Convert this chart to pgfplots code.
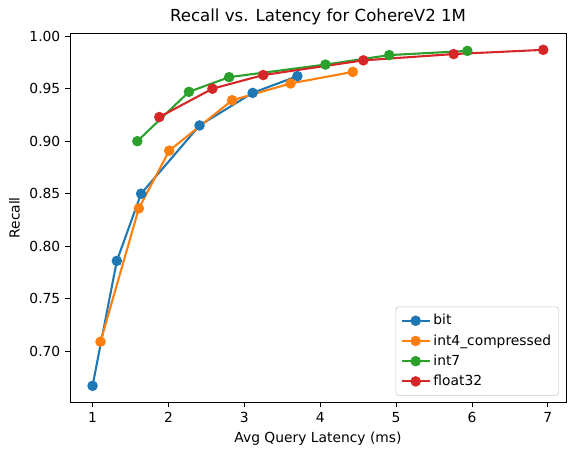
\documentclass[border=0pt]{standalone}
\usepackage{pgfplots}
\pgfplotsset{compat=1.18}
\usepackage{fontspec}
\setmainfont{DejaVu Sans}

\definecolor{tabblue}{HTML}{1F77B4}
\definecolor{taborange}{HTML}{FF7F0E}
\definecolor{tabgreen}{HTML}{2CA02C}
\definecolor{tabred}{HTML}{D62728}

\begin{document}
\begin{tikzpicture}
\begin{axis}[
	name=main,
	scale only axis,
	width=357bp, height=266bp,
	xmin=0.703, xmax=7.24,
	ymin=0.651, ymax=1.003,
	xtick={1,2,3,4,5,6,7},
	ytick={0.70,0.75,0.80,0.85,0.90,0.95,1.00},
	yticklabel style={/pgf/number format/.cd,fixed,fixed zerofill,precision=2},
	/pgf/number format/assume math mode=true,
	tick align=outside,
	major tick length=3.5bp,
	tick style={black, line width=0.6bp},
	xtick pos=bottom, ytick pos=left,
	axis line style={line width=0.6bp},
	ticklabel style={font=\fontsize{10}{12}\selectfont},
	label style={font=\fontsize{10}{12}\selectfont},
	title style={font=\fontsize{12}{14}\selectfont, yshift=-4bp},
	title={Recall vs. Latency for CohereV2 1M},
	xlabel={Avg Query Latency (ms)},
	ylabel={Recall},
	every axis plot/.append style={line width=1.5bp, mark=*, mark size=3bp},
	legend style={at={(0.986,0.019)}, anchor=south east,
		draw=gray!45, rounded corners=2bp, font=\fontsize{10}{12}\selectfont,
		row sep=1.5bp, inner sep=3.5bp},
	legend cell align=left,
	legend image code/.code={\draw[mark repeat=2,mark phase=2] plot coordinates {(0bp,0bp) (10bp,0bp) (20bp,0bp)};},
]
\addplot[color=tabblue, mark options={fill=tabblue, draw=tabblue}] coordinates {
	(1.00,0.667) (1.32,0.786) (1.64,0.850) (2.41,0.915) (3.11,0.946) (3.70,0.962)
};
\addplot[color=taborange, mark options={fill=taborange, draw=taborange}] coordinates {
	(1.105,0.709) (1.61,0.836) (2.01,0.891) (2.84,0.939) (3.61,0.955) (4.43,0.966)
};
\addplot[color=tabgreen, mark options={fill=tabgreen, draw=tabgreen}] coordinates {
	(1.59,0.900) (2.27,0.947) (2.80,0.961) (4.07,0.973) (4.91,0.982) (5.94,0.986)
};
\addplot[color=tabred, mark options={fill=tabred, draw=tabred}] coordinates {
	(1.88,0.923) (2.58,0.950) (3.25,0.963) (4.57,0.977) (5.76,0.983) (6.94,0.987)
};
\legend{bit, int4\_compressed, int7, float32}
\end{axis}
\path ([xshift=-50.4bp,yshift=-38.2bp]main.south west) rectangle ([xshift=7.2bp,yshift=23.8bp]main.north east);
\end{tikzpicture}
\end{document}
